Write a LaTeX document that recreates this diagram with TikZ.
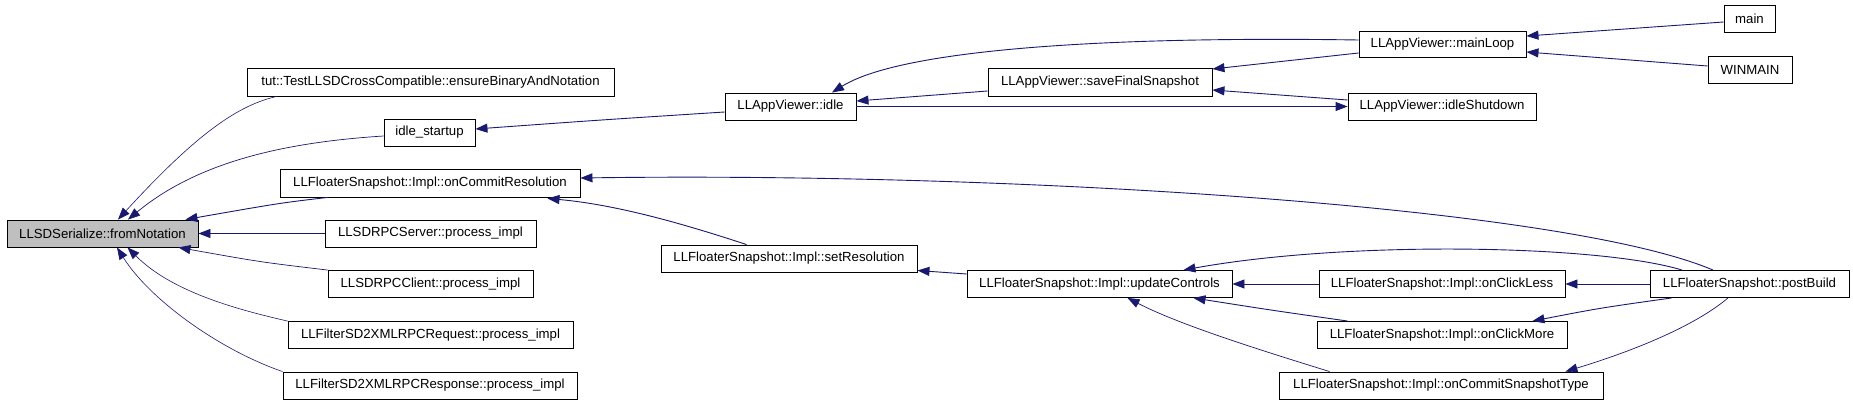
\documentclass[tikz,border=0pt]{standalone}
\usepackage{fontspec}
\setmainfont{Liberation Sans}
\usetikzlibrary{arrows.meta}
\definecolor{edgeblue}{HTML}{191970}
\definecolor{hlgray}{HTML}{BFBFBF}
\begin{document}
\begin{tikzpicture}[x=1pt,y=-1pt,
  fnbox/.style={draw=black,line width=0.9pt,fill=white,minimum height=27pt,inner sep=0pt,
    font=\fontsize{13.2}{15}\selectfont,anchor=center},
  calls/.style={draw=edgeblue,line width=0.9pt,-{Triangle[length=12pt,width=9pt]}}]
\useasboundingbox[fill=white] (0,0) rectangle (1853,404);
% nodes
\node[fnbox,fill=hlgray,minimum width=191pt] (fn) at (102.5,233.5) {LLSDSerialize::fromNotation};
\node[fnbox,minimum width=367pt,minimum height=28pt] (ens) at (430.5,82) {tut::TestLLSDCrossCompatible::ensureBinaryAndNotation};
\node[fnbox,minimum width=91pt] (ids) at (429.5,132.5) {idle\_startup};
\node[fnbox,minimum width=300pt,minimum height=28pt] (ocr) at (430,183) {LLFloaterSnapshot::Impl::onCommitResolution};
\node[fnbox,minimum width=211pt] (srv) at (430.5,233.5) {LLSDRPCServer::process\_impl};
\node[fnbox,minimum width=205pt] (cli) at (430.5,284) {LLSDRPCClient::process\_impl};
\node[fnbox,minimum width=285pt] (req) at (430.5,335) {LLFilterSD2XMLRPCRequest::process\_impl};
\node[fnbox,minimum width=294pt] (rsp) at (430,385.5) {LLFilterSD2XMLRPCResponse::process\_impl};
\node[fnbox,minimum width=131pt] (idle) at (790.5,106.5) {LLAppViewer::idle};
\node[fnbox,minimum width=224pt,minimum height=28pt] (sfs) at (1100,82) {LLAppViewer::saveFinalSnapshot};
\node[fnbox,minimum width=256pt] (setr) at (789,258.5) {LLFloaterSnapshot::Impl::setResolution};
\node[fnbox,minimum width=265pt] (upd) at (1099.5,284) {LLFloaterSnapshot::Impl::updateControls};
\node[fnbox,minimum width=167pt,minimum height=26pt] (ml) at (1442.5,44) {LLAppViewer::mainLoop};
\node[fnbox,minimum width=51pt] (main) at (1749.5,18.5) {main};
\node[fnbox,minimum width=84pt] (win) at (1750,69.5) {WINMAIN};
\node[fnbox,minimum width=188pt] (ish) at (1442,106.5) {LLAppViewer::idleShutdown};
\node[fnbox,minimum width=246pt] (ocl) at (1442,284) {LLFloaterSnapshot::Impl::onClickLess};
\node[fnbox,minimum width=199pt] (pb) at (1749.5,284) {LLFloaterSnapshot::postBuild};
\node[fnbox,minimum width=250pt] (ocm) at (1442,335) {LLFloaterSnapshot::Impl::onClickMore};
\node[fnbox,minimum width=324pt] (ocst) at (1441,385.5) {LLFloaterSnapshot::Impl::onCommitSnapshotType};
% edges into fromNotation
\draw[calls,line width=0.6pt] ([xshift=30pt]ens.south west) .. controls (240,105) and (200,130) .. ([xshift=15.5pt]fn.north);
\draw[calls,line width=0.7pt] ([yshift=-3.5pt]ids.west) .. controls (290,142) and (200,160) .. ([xshift=25.5pt]fn.north);
\draw[calls] ([xshift=48pt]ocr.south west) .. controls (280,203) .. ([xshift=-13pt]fn.north east);
\draw[calls] (srv.west) -- (fn.east);
\draw[calls,line width=0.7pt] (cli.north west) .. controls (260,262) .. ([xshift=-20pt]fn.south east);
\draw[calls,line width=0.6pt] (req.north west) .. controls (230,308) and (170,290) .. ([xshift=25pt]fn.south);
\draw[calls,line width=0.6pt] (rsp.north west) .. controls (220,350) and (150,300) .. ([xshift=14.5pt]fn.south);
% appviewer chain
\draw[calls] ([yshift=-5.5pt]idle.west) .. controls (600,120) .. ([yshift=3.5pt]ids.east);
\draw[calls] ([xshift=86pt]setr.north west) .. controls (690,226) and (620,205) .. ([xshift=-33pt,yshift=-1pt]ocr.south east);
\draw[calls] ([xshift=-36.5pt]pb.north) .. controls (1560,205) and (1000,172) .. ([yshift=5pt]ocr.east);
\draw[calls] ([yshift=-9pt]sfs.west) -- ([yshift=5.5pt]idle.east);
\draw[calls] ([yshift=4pt]ml.west) .. controls (1100,36) and (900,50) .. ([xshift=41.5pt]idle.north);
\draw[calls] (idle.east) -- (ish.west);
\draw[calls] ([yshift=-9pt]ml.west) -- ([yshift=13pt]sfs.east);
\draw[calls] ([yshift=6.5pt]ish.west) -- ([yshift=-8pt]sfs.east);
\draw[calls] ([yshift=-3.5pt]main.west) -- ([yshift=8pt]ml.east);
\draw[calls] ([yshift=3.5pt]win.west) -- ([yshift=-8pt]ml.east);
% snapshot controls
\draw[calls] ([yshift=10pt]upd.west) -- ([yshift=-12pt]setr.east);
\draw[calls] ([xshift=-67.5pt]pb.north) .. controls (1600,245) and (1350,240) .. ([xshift=-49pt]upd.north east);
\draw[calls] (ocl.west) -- (upd.east);
\draw[calls] ([xshift=31pt]ocm.north west) .. controls (1270,310) .. ([xshift=-39pt]upd.south east);
\draw[calls,line width=0.7pt] ([xshift=51pt]ocst.north west) .. controls (1260,350) and (1180,325) .. ([xshift=28pt]upd.south);
\draw[calls] (pb.west) -- (ocl.east);
\draw[calls] ([xshift=22pt]pb.south west) .. controls (1600,308) .. ([xshift=-35pt]ocm.north east);
\draw[calls,line width=0.7pt] ([xshift=-21.5pt]pb.south) .. controls (1690,330) and (1620,355) .. ([xshift=-38pt]ocst.north east);
\end{tikzpicture}
\end{document}
